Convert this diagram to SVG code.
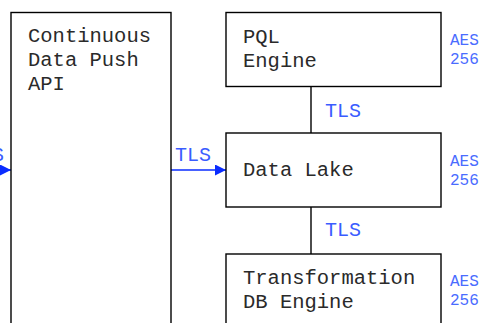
<svg xmlns="http://www.w3.org/2000/svg" width="493" height="323" viewBox="0 0 493 323">
  <defs>
    <style>
      .box { fill: #ffffff; stroke: #000000; stroke-width: 1.4; }
      .label { font-family: "Liberation Mono", "Courier New", monospace; font-size: 20.5px; fill: #2a2a2a; }
      .tls { font-family: "Liberation Mono", "Courier New", monospace; font-size: 20px; fill: #3a5cff; }
      .aes { font-family: "Liberation Mono", "Courier New", monospace; font-size: 16px; fill: #4a6cff; }
      .link { stroke: #000000; stroke-width: 1.4; fill: none; }
      .flow { stroke: #0a2cff; stroke-width: 1.6; fill: none; }
    </style>
    <marker id="arrow" viewBox="0 0 10 10" refX="10" refY="5" markerWidth="13" markerHeight="11" markerUnits="userSpaceOnUse" orient="auto">
      <path d="M0,0 L10,5 L0,10 Z" fill="#0a2cff"/>
    </marker>
  </defs>

  <g id="connectors">
    <line class="flow" x1="-40" y1="170" x2="11" y2="170" marker-end="url(#arrow)"/>
    <text class="tls" x="-32" y="161">TLS</text>
    <line class="flow" x1="171" y1="170" x2="226" y2="170" marker-end="url(#arrow)"/>
    <text class="tls" x="175" y="161">TLS</text>
    <line class="link" x1="311" y1="86.5" x2="311" y2="133"/>
    <text class="tls" x="325" y="117">TLS</text>
    <line class="link" x1="311" y1="207" x2="311" y2="254"/>
    <text class="tls" x="325" y="236">TLS</text>
  </g>

  <g id="continuous-data-push-api">
    <rect class="box" x="11" y="12.5" width="160" height="330"/>
    <text class="label" x="28" y="42">Continuous</text>
    <text class="label" x="28" y="66">Data Push</text>
    <text class="label" x="28" y="90">API</text>
  </g>

  <g id="pql-engine">
    <rect class="box" x="226" y="12.5" width="215" height="74"/>
    <text class="label" x="243" y="43">PQL</text>
    <text class="label" x="243" y="67">Engine</text>
    <text class="aes" x="450" y="45">AES</text>
    <text class="aes" x="450" y="64">256</text>
  </g>

  <g id="data-lake">
    <rect class="box" x="226" y="133" width="215" height="74"/>
    <text class="label" x="243" y="176">Data Lake</text>
    <text class="aes" x="450" y="166">AES</text>
    <text class="aes" x="450" y="185">256</text>
  </g>

  <g id="transformation-db-engine">
    <rect class="box" x="226" y="254" width="215" height="90"/>
    <text class="label" x="243" y="284">Transformation</text>
    <text class="label" x="243" y="308">DB Engine</text>
    <text class="aes" x="450" y="286">AES</text>
    <text class="aes" x="450" y="305">256</text>
  </g>
</svg>
